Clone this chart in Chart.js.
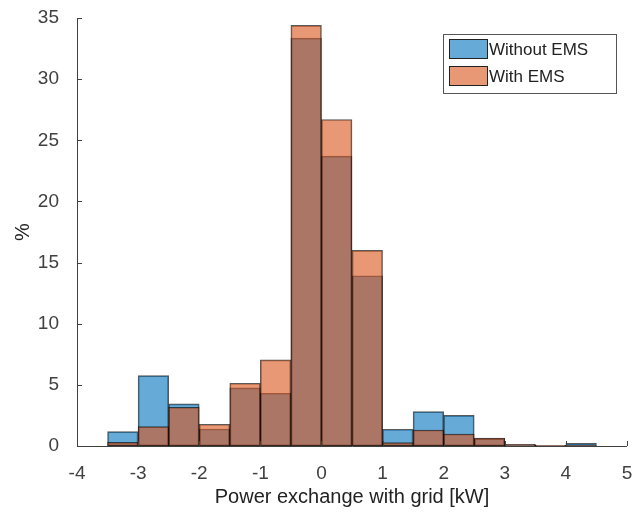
<!DOCTYPE html>
<html lang="en">
<head>
    <meta charset="UTF-8">
    <title>Power exchange histogram</title>
    <script src="https://cdn.jsdelivr.net/npm/chart.js"></script>
    <style>
        body { margin: 0; background: #fff; }
        .wrap { width: 640px; height: 513px; }
    </style>
</head>
<body>
<div class="wrap"><canvas id="hist" width="640" height="513"></canvas></div>
<script>
    // bin centres in kW (bins are 0.5 kW wide)
    const binCenters = [-3.25, -2.75, -2.25, -1.75, -1.25, -0.75, -0.25, 0.25,
                        0.75, 1.25, 1.75, 2.25, 2.75, 3.25, 3.75, 4.25];
    const withoutEms = [1.17, 5.76, 3.44, 1.39, 4.75, 4.31, 33.36, 23.7,
                        13.92, 1.37, 2.81, 2.51, 0.6, 0.12, 0.06, 0.22];
    const withEms = [0.3, 1.58, 3.17, 1.78, 5.13, 7.04, 34.4, 26.7,
                     16.0, 0.27, 1.31, 0.98, 0.65, 0.14, 0.05, 0.03];
    const seriesNames = ['Without EMS', 'With EMS'];
    const blue = 'rgba(0,114,189,0.6)';
    const orange = 'rgba(217,83,25,0.6)';
    const axisColor = '#404040';
    const font = '"Liberation Sans", Arial, sans-serif';

    function toPoints(vals) {
        return binCenters.map((x, i) => ({ x: x, y: vals[i] }));
    }

    // inward tick marks, MATLAB style (box off)
    const tickMarks = {
        id: 'tickMarks',
        afterDraw(chart) {
            const ctx = chart.ctx, xs = chart.scales.x, ys = chart.scales.y;
            const a = chart.chartArea;
            ctx.save();
            ctx.strokeStyle = axisColor;
            ctx.lineWidth = 1;
            ctx.beginPath();
            ctx.moveTo(a.left + 0.5, a.top);
            ctx.lineTo(a.left + 0.5, a.bottom + 0.5);
            ctx.lineTo(a.right, a.bottom + 0.5);
            xs.ticks.forEach(t => {
                const px = Math.round(xs.getPixelForValue(t.value)) + 0.5;
                ctx.moveTo(px, a.bottom);
                ctx.lineTo(px, a.bottom - 5);
            });
            ys.ticks.forEach(t => {
                const py = Math.round(ys.getPixelForValue(t.value)) + 0.5;
                ctx.moveTo(a.left, py);
                ctx.lineTo(a.left + 5, py);
            });
            ctx.stroke();
            ctx.restore();
        }
    };

    // legend box inside the axes, top right
    const boxLegend = {
        id: 'boxLegend',
        afterDraw(chart) {
            const ctx = chart.ctx;
            const x0 = 443, y0 = 34, w = 173, h = 59;
            ctx.save();
            ctx.fillStyle = '#fff';
            ctx.fillRect(x0, y0, w, h);
            ctx.strokeStyle = '#555';
            ctx.lineWidth = 1;
            ctx.strokeRect(x0 + 0.5, y0 + 0.5, w, h);
            const fills = [blue, orange];
            ctx.font = '17px ' + font;
            ctx.textBaseline = 'middle';
            seriesNames.forEach((name, i) => {
                const cy = y0 + 15 + i * 27;
                ctx.fillStyle = fills[i];
                ctx.fillRect(x0 + 6, cy - 10, 39, 20);
                ctx.strokeStyle = '#222';
                ctx.strokeRect(x0 + 6.5, cy - 9.5, 38, 19);
                ctx.fillStyle = '#222';
                ctx.fillText(name, x0 + 46, cy + 1);
            });
            ctx.restore();
        }
    };

    new Chart(document.getElementById('hist'), {
        type: 'bar',
        data: {
            datasets: [{
                label: seriesNames[0],
                data: toPoints(withoutEms),
                backgroundColor: blue,
                order: 1
            }, {
                label: seriesNames[1],
                data: toPoints(withEms),
                backgroundColor: orange,
                order: 0
            }]
        },
        options: {
            responsive: false,
            animation: false,
            layout: { padding: { top: 18, right: 13, left: 0, bottom: 0 } },
            datasets: {
                bar: {
                    grouped: false,
                    barPercentage: 1,
                    categoryPercentage: 1,
                    borderWidth: 1,
                    borderColor: 'rgba(0,0,0,0.65)',
                    borderSkipped: false
                }
            },
            plugins: {
                legend: { display: false },
                tooltip: { enabled: false }
            },
            scales: {
                x: {
                    type: 'linear',
                    min: -4,
                    max: 5,
                    offset: false,
                    grid: { display: false },
                    border: { display: false },
                    ticks: { stepSize: 1, color: axisColor, padding: 8, font: { family: font, size: 19 } },
                    title: {
                        display: true,
                        text: 'Power exchange with grid [kW]',
                        color: '#222',
                        font: { family: font, size: 20 },
                        padding: { top: 2, bottom: 4 }
                    },
                    afterFit(scale) {
                        scale.height = 67;
                        scale.paddingLeft = 0;
                        scale.paddingRight = 0;
                    }
                },
                y: {
                    min: 0,
                    max: 35,
                    grid: { display: false },
                    border: { display: false },
                    ticks: { stepSize: 5, color: axisColor, padding: 10, font: { family: font, size: 19 } },
                    title: {
                        display: true,
                        text: '%',
                        color: '#222',
                        font: { family: font, size: 20 },
                        padding: { top: 11, bottom: 0 }
                    },
                    afterFit(scale) {
                        scale.width = 77;
                        scale.paddingTop = 0;
                        scale.paddingBottom = 0;
                    }
                }
            }
        },
        plugins: [tickMarks, boxLegend]
    });
</script>
</body>
</html>
